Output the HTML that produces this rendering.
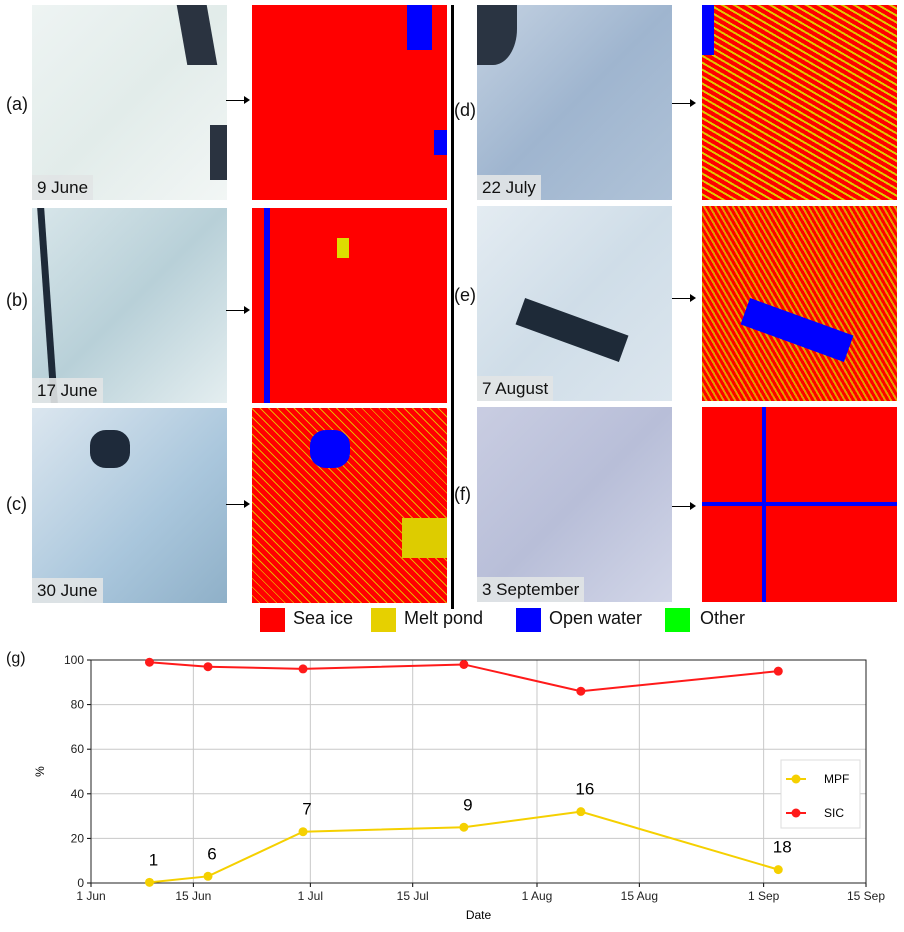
<!DOCTYPE html>
<html><head><meta charset="utf-8"><style>
body{margin:0;width:904px;height:932px;background:#fff;position:relative;font-family:"Liberation Sans",sans-serif;overflow:hidden}
.a{position:absolute}
.ph{position:absolute;width:195px;height:195px;overflow:hidden}
.cl{position:absolute;width:195px;height:195px;background:#f00;overflow:hidden}
.lab{position:absolute;left:0;bottom:0;background:rgba(225,228,230,.9);font-size:17px;padding:3px 5px 2px 5px;color:#111}
.pl{position:absolute;font-size:18px;color:#111}
.arr{position:absolute;height:1px;background:#000;width:22px}
.arr:after{content:"";position:absolute;right:-2px;top:-4px;border-left:6px solid #000;border-top:4px solid transparent;border-bottom:4px solid transparent}
.sw{position:absolute;width:25px;height:24px;top:608px}
.lt{position:absolute;top:608px;font-size:18px;color:#111}
</style></head><body>
<!-- photos -->
<div class="ph" style="left:32px;top:5px;background:linear-gradient(135deg,#eef4f3,#e2ecea 50%,#f2f6f5)"><div class="a" style="left:150px;top:0;width:30px;height:60px;background:#2a3340;transform:skewX(10deg)"></div><div class="a" style="left:178px;top:120px;width:17px;height:55px;background:#2a3340"></div><div class="lab">9 June</div></div>
<div class="ph" style="left:32px;top:208px;background:linear-gradient(135deg,#d8e6ea,#b8d0d8 50%,#e4eef0)"><div class="a" style="left:12px;top:0;width:7px;height:195px;background:#1e2a38;transform:skewX(4deg)"></div><div class="lab">17 June</div></div>
<div class="ph" style="left:32px;top:408px;background:linear-gradient(135deg,#dbe6ef,#a9c6dc 60%,#8fb0c8)"><div class="a" style="left:58px;top:22px;width:40px;height:38px;background:#1e2a3a;border-radius:40%"></div><div class="lab">30 June</div></div>
<div class="ph" style="left:477px;top:5px;background:linear-gradient(135deg,#c4d2e2,#9fb5cf 50%,#b0c3d8)"><div class="a" style="left:0;top:0;width:40px;height:60px;background:#2a3442;border-radius:0 0 60% 0"></div><div class="lab">22 July</div></div>
<div class="ph" style="left:477px;top:206px;background:linear-gradient(135deg,#e4ecf2,#cfdde8 50%,#dce6ee)"><div class="a" style="left:40px;top:110px;width:110px;height:28px;background:#1e2a38;transform:rotate(20deg)"></div><div class="lab">7 August</div></div>
<div class="ph" style="left:477px;top:407px;background:linear-gradient(135deg,#c9cde2,#b8bed8 50%,#d2d6e8)"><div class="lab">3 September</div></div>
<!-- classified -->
<div class="cl" style="left:252px;top:5px"><div class="a" style="left:155px;top:0;width:25px;height:45px;background:#00f"></div><div class="a" style="left:182px;top:125px;width:13px;height:25px;background:#00f"></div></div>
<div class="cl" style="left:252px;top:208px"><div class="a" style="left:12px;top:0;width:6px;height:195px;background:#00f"></div><div class="a" style="left:85px;top:30px;width:12px;height:20px;background:#dd0"></div></div>
<div class="cl" style="left:252px;top:408px;background:repeating-linear-gradient(45deg,#f00 0 5px,#e8b000 5px 6px)"><div class="a" style="left:58px;top:22px;width:40px;height:38px;background:#00f;border-radius:40%"></div><div class="a" style="left:150px;top:110px;width:45px;height:40px;background:#dc0"></div></div>
<div class="cl" style="left:702px;top:5px;background:repeating-linear-gradient(30deg,#f00 0 4px,#dc0 4px 6px)"><div class="a" style="left:0;top:0;width:12px;height:50px;background:#00f"></div></div>
<div class="cl" style="left:702px;top:206px;background:repeating-linear-gradient(60deg,#f00 0 3px,#e0a000 3px 5px)"><div class="a" style="left:40px;top:110px;width:110px;height:28px;background:#00f;transform:rotate(20deg)"></div></div>
<div class="cl" style="left:702px;top:407px"><div class="a" style="left:0;top:95px;width:195px;height:4px;background:#00f"></div><div class="a" style="left:60px;top:0;width:4px;height:195px;background:#00f"></div></div>
<!-- panel labels + arrows -->
<div class="pl" style="left:6px;top:94px">(a)</div><div class="pl" style="left:6px;top:290px">(b)</div><div class="pl" style="left:6px;top:494px">(c)</div>
<div class="pl" style="left:454px;top:100px">(d)</div><div class="pl" style="left:454px;top:285px">(e)</div><div class="pl" style="left:454px;top:484px">(f)</div>
<div class="arr" style="left:226px;top:100px"></div><div class="arr" style="left:226px;top:310px"></div><div class="arr" style="left:226px;top:504px"></div>
<div class="arr" style="left:672px;top:103px"></div><div class="arr" style="left:672px;top:298px"></div><div class="arr" style="left:672px;top:506px"></div>
<div class="a" style="left:451px;top:5px;width:3px;height:604px;background:#000"></div>
<!-- legend -->
<div class="sw" style="left:260px;background:#f00"></div><div class="lt" style="left:293px">Sea ice</div>
<div class="sw" style="left:371px;background:#e6d000"></div><div class="lt" style="left:404px">Melt pond</div>
<div class="sw" style="left:516px;background:#00f"></div><div class="lt" style="left:549px">Open water</div>
<div class="sw" style="left:665px;background:#0f0"></div><div class="lt" style="left:700px">Other</div>
<div class="pl" style="left:6px;top:650px;font-size:16px">(g)</div>
<svg class="a" style="left:0;top:640px" width="904" height="292" id="chart"></svg>
<script>
const categories=[8,16,29,51,67,94]; // days since 1 Jun
const sic=[99,97,96,98,86,95];
const mpf=[0.3,3,23,25,32,6];
const annot=["1","6","7","9","16","18"];
const xTicks=[0,14,30,44,61,75,92,106];
const xTickLabels=["1 Jun","15 Jun","1 Jul","15 Jul","1 Aug","15 Aug","1 Sep","15 Sep"];
const yTicks=[0,20,40,60,80,100];
const svg=document.getElementById('chart');const NS="http://www.w3.org/2000/svg";
const X0=91,X1=866,Y0=243,Y1=20;
const xs=d=>X0+d/106*(X1-X0), ys=v=>Y0+(Y1-Y0)*v/100;
function mk(t,a,txt){const e=document.createElementNS(NS,t);for(const k in a)e.setAttribute(k,a[k]);if(txt!=null)e.textContent=txt;svg.appendChild(e);return e;}
xTicks.forEach((d,i)=>{mk('line',{x1:xs(d),x2:xs(d),y1:Y1,y2:Y0,stroke:'#c8c8c8'});mk('line',{x1:xs(d),x2:xs(d),y1:Y0,y2:Y0+4,stroke:'#000'});
const t=mk('text',{x:xs(d),y:Y0+17,'text-anchor':'middle','font-size':'12','fill':'#222'},xTickLabels[i]);});
yTicks.forEach(v=>{mk('line',{x1:X0,x2:X1,y1:ys(v),y2:ys(v),stroke:'#c8c8c8'});mk('line',{x1:X0-4,x2:X0,y1:ys(v),y2:ys(v),stroke:'#000'});
const t=mk('text',{x:X0-7,y:ys(v)+4,'text-anchor':'end','font-size':'12','fill':'#222'},v);});
mk('rect',{x:X0,y:Y1,width:X1-X0,height:Y0-Y1,fill:'none',stroke:'#222'});
const xt=mk('text',{x:(X0+X1)/2,y:Y0+36,'text-anchor':'middle','font-size':'12'},'Date');
const yt=mk('text',{x:44,y:(Y0+Y1)/2,'text-anchor':'middle','font-size':'12',transform:`rotate(-90 44 ${(Y0+Y1)/2})`},'%');
function series(vals,col,name){const p=mk('polyline',{points:vals.map((v,i)=>xs(categories[i])+','+ys(v)).join(' '),fill:'none',stroke:col,'stroke-width':2});
vals.forEach((v,i)=>{const c=mk('circle',{cx:xs(categories[i]),cy:ys(v),r:4.5,fill:col});});}
series(sic,'#ff1a1a','sic');series(mpf,'#f5d000','mpf');
mpf.forEach((v,i)=>{const t=mk('text',{x:xs(categories[i])+4,y:ys(v)-17,'text-anchor':'middle','font-size':'17'},annot[i]);});
const lg=mk('rect',{x:781,y:120,width:79,height:68,fill:'#fff',stroke:'#ddd'});
[['MPF','#f5d000',139],['SIC','#ff1a1a',173]].forEach(([n,c,y])=>{mk('line',{x1:786,x2:806,y1:y,y2:y,stroke:c,'stroke-width':2});mk('circle',{cx:796,cy:y,r:4.5,fill:c});
const t=mk('text',{x:824,y:y+4,'font-size':'12'},n);});
</script>
</body></html>
